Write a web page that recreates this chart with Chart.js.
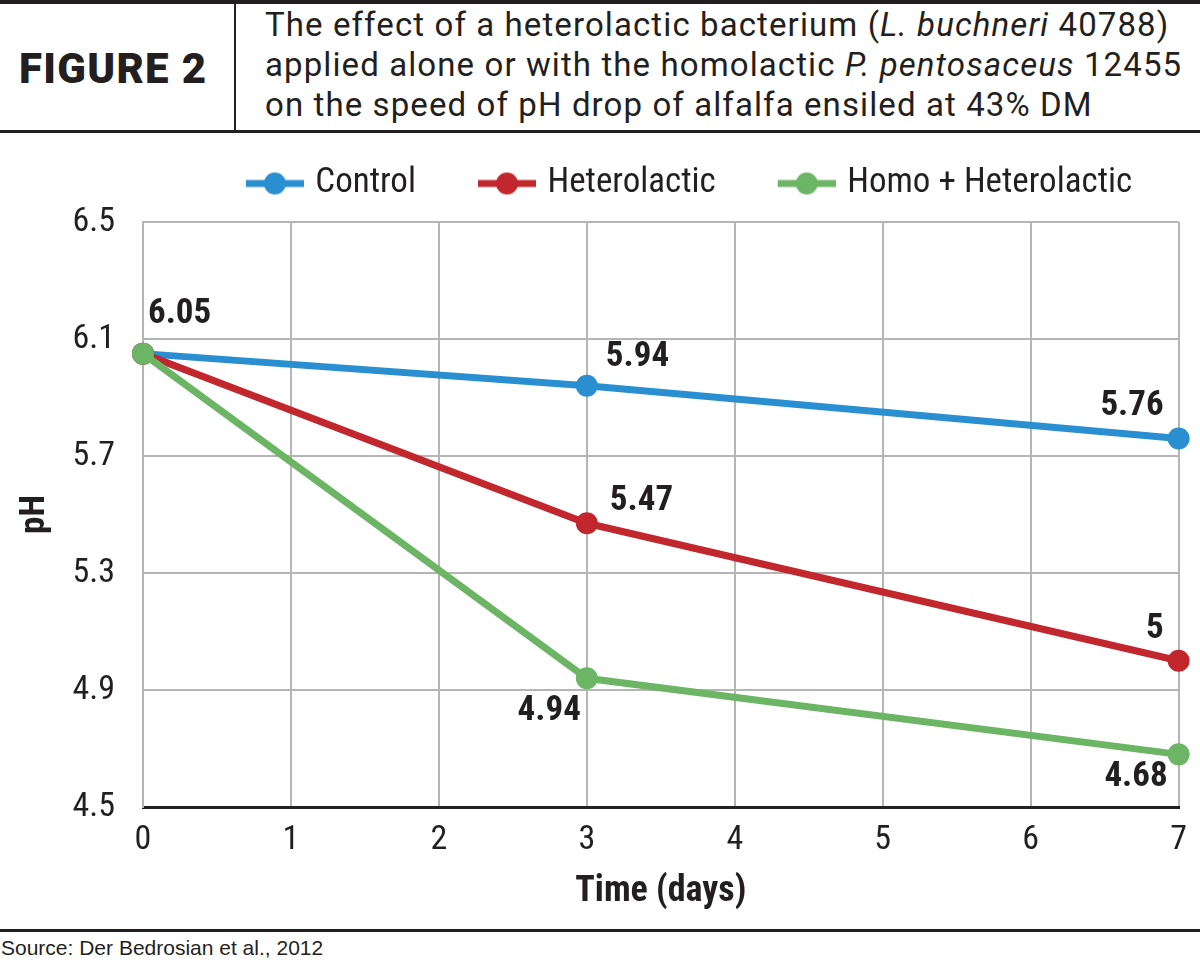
<!doctype html>
<html lang="en">
<head>
<meta charset="UTF-8" />
<title>Figure 2</title>
<style>
  html, body { margin: 0; padding: 0; background: #fff; }
  body { width: 1200px; height: 962px; position: relative; overflow: hidden; color: #231f20; }
  #topRule { position: absolute; left: 0; top: 0; width: 1200px; height: 4px; background: #231f20; }
  #bottomRule { position: absolute; left: 0; top: 130px; width: 1200px; height: 3px; background: #231f20; }
  #divider { position: absolute; left: 234px; top: 4px; width: 2px; height: 126px; background: #231f20; }
  #fig { position: absolute; left: 19px; top: 6px; height: 126px; font: 900 42px Roboto, sans-serif; line-height: 126px; letter-spacing: 1.3px; white-space: nowrap; }
  #caption { position: absolute; left: 265px; top: 5px; font: 400 33px Roboto, sans-serif; line-height: 40px; white-space: nowrap; }
  #chartWrap { position: absolute; left: 0; top: 140px; width: 1200px; height: 790px; }
  #footRule { position: absolute; left: 0; top: 929px; width: 1200px; height: 3px; background: #231f20; }
  #source { position: absolute; left: 1px; top: 936px; font: 21px 'Liberation Sans', Arial, sans-serif; white-space: nowrap; }
</style>
</head>
<body>
  <div id="topRule"></div>
  <div id="fig">FIGURE 2</div>
  <div id="divider"></div>
  <div id="caption"><span>The effect of a heterolactic bacterium (<i>L. buchneri</i> 40788)</span><br><span>applied alone or with the homolactic <i>P. pentosaceus</i> 12455</span><br><span>on the speed of pH drop of alfalfa ensiled at 43% DM</span></div>
  <div id="bottomRule"></div>
  <div id="chartWrap"><canvas id="chart"></canvas></div>
  <div id="footRule"></div>
  <div id="source">Source: Der Bedrosian et al., 2012</div>

  <script src="https://cdn.jsdelivr.net/npm/chart.js@4"></script>
  <script>
    const DAYS = [0, 3, 7]
    const SERIES_NAMES = ['Control', 'Heterolactic', 'Homo + Heterolactic']
    const CONTROL = [6.05, 5.94, 5.76]
    const HETEROLACTIC = [6.05, 5.47, 5.0]
    const HOMO_HETERO = [6.05, 4.94, 4.68]
    const X_TICKS = [0, 1, 2, 3, 4, 5, 6, 7]
    const Y_TICKS = [4.5, 4.9, 5.3, 5.7, 6.1, 6.5]

    const COLORS = ['#2a8fd0', '#c1272d', '#6bb564']
    const INK = '#231f20'
    const GRID = '#b5b5b5'
    // Roboto's width axis stands in for the condensed grotesque of the original
    const FAMILY = 'Roboto, sans-serif'
    const REG = 'semi-condensed 400'
    const BOLD = 'semi-condensed 700'

    // stretch the caption lines to the width of the original block
    const caption = document.getElementById('caption')
    const widest = Math.max(...[...caption.querySelectorAll('span')].map((s) => s.getBoundingClientRect().width))
    caption.style.letterSpacing = ((917 - widest) / 57).toFixed(2) + 'px'

    // where each value label sits relative to its point (null = no label)
    const LABEL_SPOTS = [
      [{ dx: 5, dy: -39, align: 'left' }, { dx: 19, dy: -29, align: 'left' }, { dx: -15, dy: -32, align: 'right' }],
      [null, { dx: 23, dy: -22, align: 'left' }, { dx: -15, dy: -32, align: 'right' }],
      [null, { dx: -6, dy: 33, align: 'right' }, { dx: -11, dy: 23, align: 'right' }],
    ]

    const BOX_W = 104
    function legendMarker(color) {
      const c = document.createElement('canvas')
      c.width = BOX_W + 12
      c.height = 24
      const g = c.getContext('2d')
      const x0 = c.width - 58
      g.fillStyle = color
      g.fillRect(x0, 8.5, 58, 7)
      g.beginPath()
      g.arc(x0 + 29, 12, 11, 0, Math.PI * 2)
      g.fill()
      return c
    }
    const MARKERS = COLORS.map(legendMarker)

    const legendTweak = {
      id: 'legendTweak',
      beforeInit(chart) {
        const fit = chart.legend.fit
        chart.legend.fit = function () {
          fit.call(this)
          this.height += 11
          this.lineWidths[0] -= 145 // push the row to the right
        }
      },
    }

    const pointValues = {
      id: 'pointValues',
      afterDatasetsDraw(chart) {
        const { ctx } = chart
        ctx.save()
        ctx.font = BOLD + ' 35px ' + FAMILY
        ctx.fillStyle = INK
        ctx.textBaseline = 'middle'
        chart.data.datasets.forEach((ds, i) => {
          chart.getDatasetMeta(i).data.forEach((pt, j) => {
            const spot = LABEL_SPOTS[i][j]
            if (!spot) return
            ctx.textAlign = spot.align
            ctx.fillText(String(ds.data[j].y), pt.x + spot.dx, pt.y + spot.dy)
          })
        })
        ctx.restore()
      },
    }

    const series = [CONTROL, HETEROLACTIC, HOMO_HETERO]
    const datasets = series.map((values, idx) => ({
      label: SERIES_NAMES[idx],
      data: values.map((v, j) => ({ x: DAYS[j], y: v })),
      borderColor: COLORS[idx],
      backgroundColor: COLORS[idx],
      borderWidth: 7,
      pointRadius: 11,
      pointHoverRadius: 11,
      pointBorderWidth: 0,
      pointBackgroundColor: COLORS[idx],
      tension: 0,
      clip: false,
      order: 3 - idx, // green drawn on top
    }))

    new Chart(document.getElementById('chart'), {
      type: 'line',
      data: { datasets },
      plugins: [legendTweak, pointValues],
      options: {
        animation: false,
        responsive: true,
        maintainAspectRatio: false,
        devicePixelRatio: 1,
        layout: { padding: { top: 16, right: 19, bottom: 0, left: 0 } },
        plugins: {
          tooltip: { enabled: false },
          legend: {
            position: 'top',
            labels: {
              usePointStyle: true,
              pointStyleWidth: BOX_W,
              boxHeight: 24,
              padding: 10,
              color: INK,
              font: { family: FAMILY, size: 35, weight: REG },
              sort: (a, b) => a.datasetIndex - b.datasetIndex,
              generateLabels(chart) {
                const items = Chart.defaults.plugins.legend.labels.generateLabels(chart)
                items.forEach((it) => { it.pointStyle = MARKERS[it.datasetIndex] })
                return items
              },
            },
          },
        },
        scales: {
          x: {
            type: 'linear',
            min: 0,
            max: 7,
            afterBuildTicks: (s) => { s.ticks = X_TICKS.map((v) => ({ value: v })) },
            afterFit: (s) => { s.height = 123 },
            ticks: { color: INK, padding: 13, font: { family: FAMILY, size: 34, weight: REG } },
            grid: { color: GRID, lineWidth: 2, drawTicks: false },
            border: { color: INK, width: 3 },
            title: {
              display: true,
              text: 'Time (days)',
              color: INK,
              font: { family: FAMILY, size: 36, weight: BOLD },
              padding: { top: 0, bottom: 16 },
            },
          },
          y: {
            type: 'linear',
            min: 4.5,
            max: 6.5,
            afterBuildTicks: (s) => { s.ticks = Y_TICKS.map((v) => ({ value: v })) },
            afterFit: (s) => { s.width = 143 },
            ticks: {
              color: INK,
              padding: 28,
              font: { family: FAMILY, size: 34, weight: REG },
              callback: (v) => v.toFixed(1),
            },
            grid: { color: GRID, lineWidth: 2, drawTicks: false },
            border: { color: GRID, width: 2 },
            title: {
              display: true,
              text: 'pH',
              color: INK,
              font: { family: FAMILY, size: 35, weight: BOLD },
              padding: { top: 14, bottom: 0 },
            },
          },
        },
      },
    })
  </script>
</body>
</html>
